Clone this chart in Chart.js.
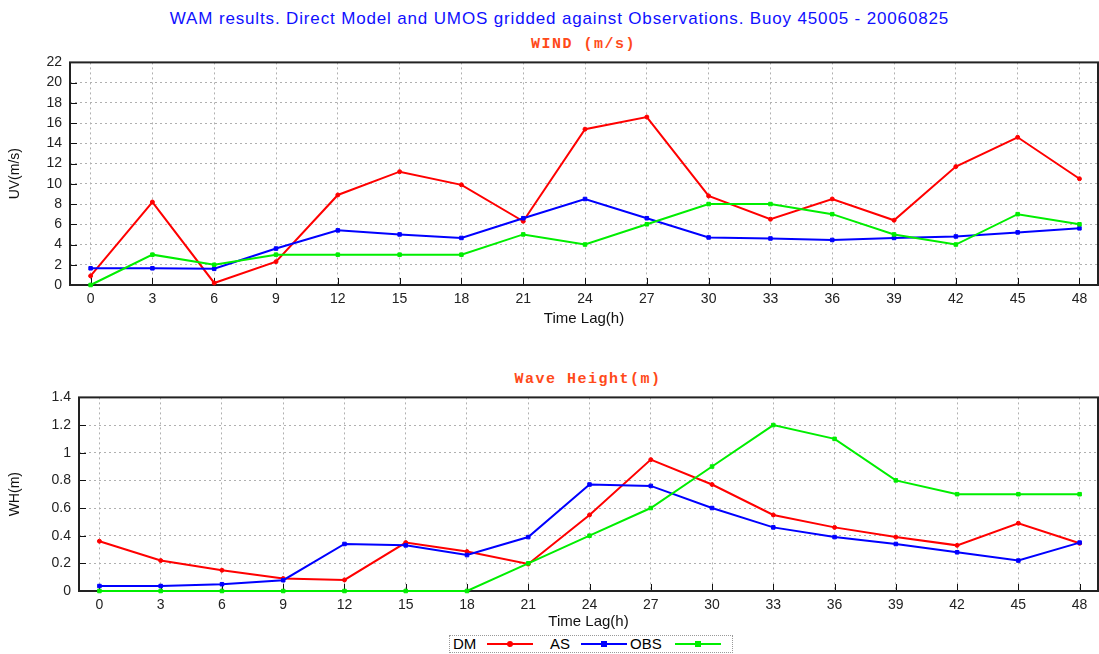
<!DOCTYPE html>
<html><head><meta charset="utf-8">
<script src="https://cdn.jsdelivr.net/npm/chart.js@4/dist/chart.umd.min.js"></script>
<style>
body{margin:0;background:#fff;width:1099px;height:654px;overflow:hidden;position:relative;font-family:'Liberation Sans',Arial,sans-serif;}
#title{position:absolute;top:9px;left:10px;width:1099px;text-align:center;color:#1010ff;font-size:17px;line-height:20px;letter-spacing:0.85px;}
.sub{position:absolute;text-align:center;color:#ff4a1a;font-family:'Liberation Mono',monospace;font-weight:bold;font-size:15px;letter-spacing:1.5px;line-height:18px;}
#c1wrap{position:absolute;left:0;top:46px;width:1103px;height:294px;}
#c2wrap{position:absolute;left:0;top:381px;width:1103px;height:254px;}
#legend{position:absolute;left:449px;top:635px;width:282px;height:16px;border:1px dotted #999;font-size:15px;color:#000;}
#legend span{position:absolute;top:-1px;line-height:18px;}
#legend .ln{position:absolute;top:7px;height:2px;width:46px;}
#legend .mk{position:absolute;top:5px;width:6px;height:6px;}
</style></head>
<body>
<div id="title">WAM results. Direct Model and UMOS gridded against Observations. Buoy 45005 - 20060825</div>
<div class="sub" style="left:70px;width:1027px;top:36px;">WIND (m/s)</div>
<div id="c1wrap"><canvas id="c1"></canvas></div>
<div class="sub" style="left:79px;width:1018px;top:371px;">Wave Height(m)</div>
<div id="c2wrap"><canvas id="c2"></canvas></div>
<div id="legend">
  <span style="left:3px">DM</span><div class="ln" style="left:37px;background:#ff0000"></div><div class="mk" style="left:57px;background:#ff0000;border-radius:3px"></div>
  <span style="left:100px">AS</span><div class="ln" style="left:131px;background:#0000ff"></div><div class="mk" style="left:151px;background:#0000ff"></div>
  <span style="left:180px">OBS</span><div class="ln" style="left:225px;background:#00ee00"></div><div class="mk" style="left:245px;background:#00ee00"></div>
</div>
<script>
const hours = [0,3,6,9,12,15,18,21,24,27,30,33,36,39,42,45,48];
const windDM  = [0.9,8.2,0.2,2.3,8.9,11.2,9.9,6.3,15.4,16.6,8.8,6.5,8.5,6.4,11.7,14.6,10.5];
const windAS  = [1.65,1.65,1.6,3.6,5.4,5.0,4.65,6.6,8.5,6.6,4.7,4.6,4.45,4.65,4.8,5.2,5.6];
const windOBS = [0,3,2,3,3,3,3,5,4,6,8,8,7,5,4,7,6];
const waveDM  = [0.36,0.22,0.15,0.09,0.08,0.35,0.285,0.195,0.55,0.95,0.77,0.55,0.46,0.39,0.33,0.49,0.345];
const waveAS  = [0.036,0.036,0.049,0.078,0.34,0.33,0.26,0.39,0.77,0.76,0.6,0.46,0.39,0.34,0.28,0.22,0.35];
const waveOBS = [0,0,0,0,0,0,0,0.2,0.4,0.6,0.9,1.2,1.1,0.8,0.7,0.7,0.7];
const windTicks = [0,2,4,6,8,10,12,14,16,18,20,22];
const waveTicks = [0,0.2,0.4,0.6,0.8,1,1.2,1.4];

const framePlugin = {
  id:'frame',
  beforeDatasetsDraw(chart){
    const {ctx, chartArea:a, scales} = chart;
    ctx.save();
    ctx.strokeStyle='#111'; ctx.lineWidth=1;
    scales.x.ticks.forEach(t=>{
      const x=Math.round(scales.x.getPixelForValue(t.value))+0.5;
      ctx.beginPath(); ctx.moveTo(x,a.bottom); ctx.lineTo(x,a.bottom-7); ctx.stroke();
    });
    scales.y.ticks.forEach(t=>{
      const y=Math.round(scales.y.getPixelForValue(t.value))+0.5;
      ctx.beginPath(); ctx.moveTo(a.left,y); ctx.lineTo(a.left+7,y); ctx.stroke();
    });
    ctx.lineWidth=2; ctx.strokeStyle='#222';
    ctx.strokeRect(a.left,a.top,a.right-a.left,a.bottom-a.top);
    ctx.restore();
  }
};

function pts(vals){ return hours.map((h,i)=>({x:h,y:vals[i]})); }

function makeChart(id, dm, as, obs, yTicks, yMax, yTitle, yAxisW, xAxisH, xTitlePadB){
  const ds = (label, vals, color, style, r)=>({label, data:pts(vals), borderColor:color, backgroundColor:color,
      borderWidth:2, pointStyle:style, pointRadius:r, pointBorderWidth:1, tension:0, fill:false, clip:6});
  return new Chart(document.getElementById(id), {
    type:'line',
    data:{datasets:[
      ds('OBS', obs, '#00ee00', 'rect', 2.5),
      ds('AS', as, '#0000ff', 'rect', 2.5),
      ds('DM', dm, '#ff0000', 'circle', 2)
    ]},
    options:{
      responsive:true, maintainAspectRatio:false, animation:false,
      layout:{padding:{top:0,right:0,left:0,bottom:0}},
      plugins:{legend:{display:false}, tooltip:{enabled:false}},
      scales:{
        x:{type:'linear', min:-1, max:48.9,
          afterBuildTicks:s=>{ s.ticks = hours.map(v=>({value:v})); },
          afterFit:s=>{ s.height = xAxisH; },
          ticks:{autoSkip:false, maxRotation:0, padding:6, color:'#222', font:{family:'Liberation Sans', size:14}, callback:v=>String(v)},
          grid:{color:'#b0b0b0', lineWidth:1, drawTicks:false},
          border:{display:false, dash:[2,3]},
          title:{display:true, text:'Time Lag(h)', color:'#111', font:{family:'Liberation Sans', size:15}, padding:{top:0,bottom:xTitlePadB}}
        },
        y:{type:'linear', min:0, max:yMax,
          afterBuildTicks:s=>{ s.ticks = yTicks.map(v=>({value:v})); },
          afterFit:s=>{ s.width = yAxisW; },
          ticks:{autoSkip:false, padding:8, color:'#222', font:{family:'Liberation Sans', size:14}, callback:v=>String(v)},
          grid:{color:'#b0b0b0', lineWidth:1, drawTicks:false},
          border:{display:false, dash:[2,3]},
          title:{display:true, text:yTitle, color:'#111', font:{family:'Liberation Sans', size:14}, padding:{top:7,bottom:0}}
        }
      }
    },
    plugins:[framePlugin]
  });
}

makeChart('c1', windDM, windAS, windOBS, windTicks, 22, 'UV(m/s)', 70, 55, 12);
makeChart('c2', waveDM, waveAS, waveOBS, waveTicks, 1.4, 'WH(m)', 79, 44, 4);
</script>
</body></html>
